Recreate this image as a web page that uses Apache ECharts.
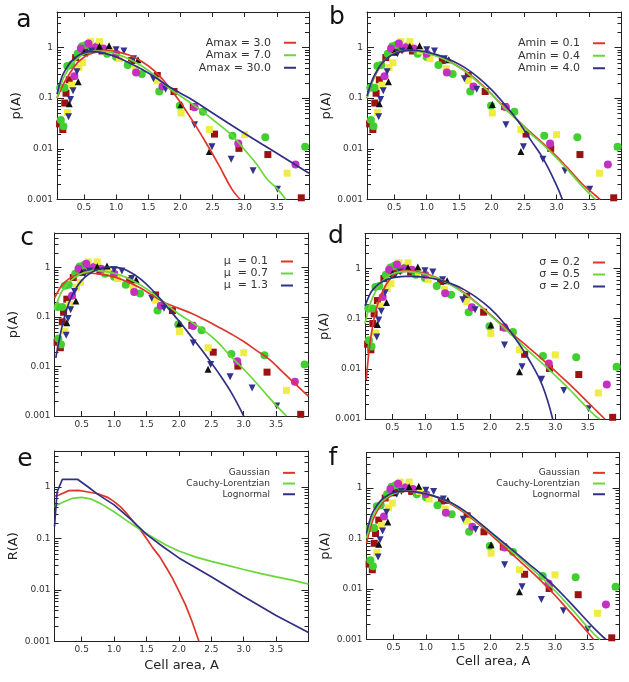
<!DOCTYPE html>
<html>
<head>
<meta charset="utf-8">
<script src="https://cdn.jsdelivr.net/npm/echarts@6/dist/echarts.min.js"></script>
<style>html,body{margin:0;padding:0;background:#fff}#c{width:629px;height:682px}</style>
</head>
<body>
<div id="c"></div>
<script>
// ---------- axis settings ----------
const xMin = 0.08, xMax = 4.0, yMin = 0.001, yMax = 5;
const minorTickValues = [0.002,0.003,0.004,0.005,0.006,0.007,0.008,0.009,
  0.02,0.03,0.04,0.05,0.06,0.07,0.08,0.09,0.2,0.3,0.4,0.5,0.6,0.7,0.8,0.9,2,3,4];

// ---------- measured data (shared by panels a-d, f) ----------
const maroonSquares = [[0.12,0.031],[0.17,0.024],[0.2,0.08],[0.22,0.125],[0.27,0.23],[0.37,0.63],[0.5,0.9],[0.6,0.93],[0.78,0.85],[1.0,0.72],[1.24,0.55],[1.64,0.28],[1.9,0.135],[2.2,0.068],[2.53,0.0195],[2.91,0.0102],[3.36,0.0077],[3.88,0.00108]];
const greenCircles = [[0.14,0.037],[0.18,0.028],[0.13,0.16],[0.2,0.16],[0.24,0.43],[0.3,0.45],[0.4,0.75],[0.47,1.05],[0.53,1.12],[0.62,1.0],[0.7,1.05],[0.86,0.75],[1.0,0.65],[1.18,0.45],[1.4,0.3],[1.67,0.135],[1.99,0.071],[2.35,0.054],[2.81,0.018],[3.32,0.017],[3.94,0.011]];
const yellowSquares = [[0.24,0.052],[0.31,0.18],[0.42,0.4],[0.48,0.5],[0.6,1.3],[0.74,1.3],[0.9,0.85],[1.05,0.6],[1.3,0.38],[1.64,0.22],[2.01,0.051],[2.45,0.024],[3.0,0.019],[3.66,0.0033]];
const magentaCircles = [[0.35,0.27],[0.45,0.95],[0.57,1.2],[0.68,1.0],[0.8,0.95],[1.0,0.75],[1.31,0.32],[1.72,0.17],[2.22,0.066],[2.9,0.0128],[3.79,0.0049]];
const navyTriangles = [[0.26,0.043],[0.29,0.094],[0.33,0.14],[0.39,0.33],[0.55,0.75],[0.62,0.85],[1.0,0.9],[1.12,0.85],[1.27,0.6],[1.58,0.24],[1.77,0.15],[2.22,0.03],[2.49,0.011],[2.79,0.0062],[3.13,0.0037],[3.51,0.0016]];
const blackTriangles = [[0.27,0.077],[0.41,0.21],[0.5,0.8],[0.74,1.05],[0.89,1.08],[1.34,0.57],[2.01,0.075],[2.45,0.0088]];

// ---------- model curves ----------
const aRed = [[0.08,0.1],[0.15,0.16],[0.2,0.21],[0.3,0.34],[0.4,0.5],[0.5,0.64],[0.6,0.75],[0.7,0.82],[0.8,0.86],[0.9,0.86],[1.0,0.83],[1.2,0.71],[1.4,0.53],[1.6,0.34],[1.8,0.18],[2.0,0.082],[2.2,0.034],[2.4,0.013],[2.6,0.0047],[2.8,0.0016],[2.93,0.001]];
const aGreen = [[0.08,0.1],[0.15,0.2],[0.2,0.28],[0.3,0.45],[0.4,0.61],[0.5,0.74],[0.6,0.82],[0.7,0.85],[0.8,0.84],[1.0,0.75],[1.2,0.59],[1.4,0.43],[1.6,0.28],[1.8,0.165],[2.0,0.11],[2.15,0.082],[2.33,0.056],[2.5,0.038],[2.8,0.0185],[3.0,0.0095],[3.19,0.0049],[3.35,0.0025],[3.5,0.00166],[3.64,0.001]];
const aBlue = [[0.08,0.12],[0.15,0.25],[0.2,0.34],[0.3,0.53],[0.4,0.68],[0.5,0.78],[0.6,0.83],[0.7,0.82],[0.8,0.78],[1.0,0.65],[1.2,0.5],[1.4,0.37],[1.6,0.26],[1.8,0.175],[2.0,0.125],[2.2,0.09],[2.5,0.051],[3.0,0.02],[3.5,0.0082],[4.0,0.0033]];
const bRed = [[0.08,0.1],[0.15,0.19],[0.2,0.27],[0.3,0.46],[0.4,0.63],[0.5,0.76],[0.6,0.84],[0.7,0.87],[0.8,0.86],[1.0,0.78],[1.2,0.65],[1.4,0.49],[1.6,0.34],[1.8,0.21],[2.0,0.12],[2.2,0.064],[2.4,0.037],[2.6,0.021],[2.8,0.0125],[3.0,0.0071],[3.2,0.0038],[3.4,0.002],[3.6,0.0012],[3.67,0.001]];
const bGreen = [[0.08,0.1],[0.15,0.2],[0.2,0.28],[0.3,0.47],[0.4,0.64],[0.5,0.77],[0.6,0.85],[0.7,0.87],[0.8,0.86],[1.0,0.77],[1.2,0.64],[1.4,0.48],[1.6,0.33],[1.8,0.2],[2.0,0.118],[2.2,0.063],[2.4,0.036],[2.6,0.02],[2.8,0.0118],[3.0,0.0066],[3.2,0.0035],[3.4,0.0018],[3.6,0.001]];
const bBlue = [[0.08,0.11],[0.15,0.21],[0.2,0.29],[0.3,0.47],[0.4,0.63],[0.5,0.75],[0.6,0.83],[0.7,0.87],[0.8,0.87],[1.0,0.81],[1.2,0.69],[1.4,0.54],[1.6,0.39],[1.8,0.25],[2.0,0.145],[2.2,0.075],[2.4,0.036],[2.6,0.015],[2.8,0.0062],[3.0,0.0019],[3.09,0.001]];
const cRed = [[0.08,0.24],[0.15,0.36],[0.2,0.45],[0.3,0.59],[0.4,0.69],[0.5,0.75],[0.6,0.77],[0.7,0.76],[0.8,0.73],[1.0,0.65],[1.2,0.52],[1.4,0.39],[1.6,0.27],[1.8,0.19],[2.0,0.15],[2.2,0.118],[2.4,0.088],[2.6,0.064],[2.8,0.046],[3.0,0.032],[3.2,0.021],[3.4,0.0138],[3.6,0.0078],[3.8,0.0044],[4.0,0.0025]];
const cGreen = [[0.08,0.14],[0.15,0.25],[0.2,0.34],[0.3,0.5],[0.4,0.64],[0.5,0.76],[0.6,0.83],[0.7,0.87],[0.8,0.86],[1.0,0.77],[1.2,0.62],[1.4,0.45],[1.6,0.3],[1.8,0.185],[2.0,0.115],[2.2,0.078],[2.4,0.052],[2.6,0.031],[2.8,0.016],[3.0,0.0088],[3.2,0.0046],[3.4,0.0023],[3.6,0.0012],[3.66,0.001]];
const cBlue = [[0.1,0.015],[0.15,0.033],[0.2,0.068],[0.25,0.12],[0.3,0.19],[0.4,0.36],[0.5,0.55],[0.6,0.72],[0.7,0.86],[0.8,0.96],[0.9,1.02],[1.0,1.02],[1.1,0.97],[1.2,0.87],[1.4,0.6],[1.6,0.34],[1.8,0.17],[2.0,0.083],[2.2,0.039],[2.4,0.018],[2.6,0.0078],[2.8,0.0031],[3.0,0.001]];
const dRed = [[0.1,0.006],[0.12,0.012],[0.15,0.028],[0.2,0.075],[0.25,0.15],[0.3,0.24],[0.4,0.47],[0.5,0.7],[0.6,0.86],[0.7,0.92],[0.8,0.9],[1.0,0.79],[1.2,0.64],[1.4,0.48],[1.6,0.33],[1.8,0.205],[2.0,0.122],[2.2,0.072],[2.4,0.043],[2.6,0.026],[2.8,0.0155],[3.0,0.009],[3.2,0.0052],[3.4,0.0029],[3.6,0.0016],[3.76,0.001]];
const dGreen = [[0.08,0.08],[0.15,0.18],[0.2,0.27],[0.3,0.47],[0.4,0.65],[0.5,0.78],[0.6,0.85],[0.7,0.88],[0.8,0.86],[1.0,0.77],[1.2,0.63],[1.4,0.47],[1.6,0.32],[1.8,0.2],[2.0,0.118],[2.2,0.068],[2.4,0.039],[2.6,0.022],[2.8,0.0128],[3.0,0.0073],[3.2,0.0041],[3.4,0.0022],[3.6,0.0012],[3.68,0.001]];
const dBlue = [[0.08,0.18],[0.15,0.3],[0.2,0.38],[0.3,0.5],[0.4,0.59],[0.5,0.65],[0.6,0.68],[0.7,0.7],[0.8,0.7],[1.0,0.67],[1.2,0.6],[1.4,0.5],[1.6,0.38],[1.8,0.26],[2.0,0.16],[2.2,0.085],[2.4,0.038],[2.6,0.015],[2.8,0.0047],[2.96,0.001]];
const eGaussian = [[0.08,0.66],[0.15,0.7],[0.3,0.85],[0.45,0.86],[0.6,0.8],[0.75,0.74],[0.9,0.63],[1.0,0.52],[1.1,0.41],[1.2,0.3],[1.3,0.21],[1.4,0.15],[1.5,0.1],[1.6,0.065],[1.7,0.045],[1.8,0.028],[1.9,0.017],[2.0,0.0095],[2.1,0.0052],[2.2,0.0025],[2.31,0.001]];
const eCauchy = [[0.08,0.42],[0.2,0.5],[0.35,0.6],[0.5,0.63],[0.65,0.58],[0.8,0.47],[1.0,0.33],[1.2,0.22],[1.4,0.15],[1.6,0.105],[1.8,0.075],[2.0,0.057],[2.25,0.044],[2.5,0.036],[2.75,0.03],[3.0,0.025],[3.25,0.021],[3.5,0.018],[3.75,0.0155],[4.0,0.013]];
const eLognormal = [[0.08,0.17],[0.12,0.8],[0.2,1.4],[0.44,1.4],[0.6,1.0],[0.75,0.72],[1.0,0.45],[1.25,0.24],[1.5,0.12],[1.75,0.07],[2.0,0.042],[2.5,0.018],[3.0,0.0075],[3.5,0.0032],[4.0,0.0015]];
const fGaussian = [[0.08,0.08],[0.15,0.18],[0.2,0.27],[0.3,0.45],[0.4,0.62],[0.5,0.75],[0.6,0.83],[0.7,0.86],[0.8,0.85],[1.0,0.77],[1.2,0.63],[1.4,0.47],[1.6,0.32],[1.8,0.2],[2.0,0.12],[2.2,0.07],[2.4,0.041],[2.6,0.024],[2.8,0.0138],[3.0,0.0075],[3.2,0.0039],[3.4,0.002],[3.6,0.001]];
const fCauchy = [[0.08,0.1],[0.15,0.22],[0.2,0.31],[0.3,0.5],[0.4,0.66],[0.5,0.77],[0.6,0.84],[0.7,0.86],[0.8,0.85],[1.0,0.77],[1.2,0.64],[1.4,0.49],[1.6,0.34],[1.8,0.21],[2.0,0.13],[2.2,0.078],[2.4,0.047],[2.6,0.028],[2.8,0.0165],[3.0,0.0092],[3.2,0.0049],[3.4,0.0025],[3.6,0.0013],[3.7,0.001]];
const fLognormal = [[0.08,0.13],[0.15,0.27],[0.2,0.37],[0.3,0.56],[0.4,0.7],[0.5,0.8],[0.6,0.85],[0.7,0.86],[0.8,0.84],[1.0,0.76],[1.2,0.64],[1.4,0.5],[1.6,0.35],[1.8,0.22],[2.0,0.135],[2.2,0.083],[2.4,0.051],[2.6,0.031],[2.8,0.019],[3.0,0.011],[3.2,0.006],[3.4,0.0032],[3.6,0.0017],[3.79,0.001]];

const aNames = ['Amax = 3.0','Amax = 7.0','Amax = 30.0'];
const bNames = ['Amin = 0.1','Amin = 0.4','Amin = 4.0'];
const cNames = ['\u03bc  = 0.1','\u03bc  = 0.7','\u03bc  = 1.3'];
const dNames = ['\u03c3 = 0.2','\u03c3 = 0.5','\u03c3 = 2.0'];
const fitNames = ['Gaussian','Cauchy-Lorentzian','Lognormal'];

// ---------- styling / layout ----------
const FONT = 'DejaVu Sans';
const lineColors = ['#e0352b','#6ad63a','#2f2f86'];
const scatterDefs = [
  {data: maroonSquares, symbol:'rect', color:'#9c1212', size:7, rot:0},
  {data: greenCircles, symbol:'circle', color:'#3fcf2f', size:8, rot:0},
  {data: yellowSquares, symbol:'rect', color:'#eded45', size:7, rot:0},
  {data: magentaCircles, symbol:'circle', color:'#c42fc4', size:8, rot:0},
  {data: navyTriangles, symbol:'triangle', color:'#32328f', size:7, rot:180},
  {data: blackTriangles, symbol:'triangle', color:'#111111', size:7, rot:0}
];
const panels = [
  {letter:'a', lx:24, ly:20, grid:{left:57, top:12, width:252, height:187.5}, curves:[aRed,aGreen,aBlue], names:aNames, scatter:true, yName:'p(A)', xName:'', legend:{right:333, top:36.5, fs:11, lh:12.5}},
  {letter:'b', lx:337, ly:17, grid:{left:367, top:12, width:254.5, height:187.5}, curves:[bRed,bGreen,bBlue], names:bNames, scatter:true, yName:'p(A)', xName:'', legend:{right:24, top:37, fs:11, lh:12.5}},
  {letter:'c', lx:27, ly:238, grid:{left:54.5, top:233, width:254, height:183}, curves:[cRed,cGreen,cBlue], names:cNames, scatter:true, yName:'p(A)', xName:'', legend:{right:336, top:255.5, fs:11, lh:12}},
  {letter:'d', lx:336, ly:236, grid:{left:365, top:233.5, width:255.5, height:185.5}, curves:[dRed,dGreen,dBlue], names:dNames, scatter:true, yName:'p(A)', xName:'', legend:{right:24, top:256.5, fs:11, lh:12}},
  {letter:'e', lx:25, ly:459, grid:{left:54.5, top:451, width:254, height:190.5}, curves:[eGaussian,eCauchy,eLognormal], names:fitNames, scatter:false, yName:'R(A)', xName:'Cell area, A', xNameGap:18, smooth:false, legend:{right:334, top:467.5, fs:9, lh:10.7}},
  {letter:'f', lx:333, ly:458, grid:{left:366.5, top:452.5, width:253, height:187}, curves:[fGaussian,fCauchy,fLognormal], names:fitNames, scatter:false, withScatter:true, yName:'p(A)', xName:'Cell area, A', xNameGap:16, legend:{right:24, top:467.5, fs:9, lh:10.7}}
];

const grids = [], xAxes = [], yAxes = [], series = [], legends = [], graphics = [];
const axisCol = '#222';
function fmtY(v){ return String(Number(v.toPrecision(3))); }

panels.forEach((p, i) => {
  grids.push(Object.assign({}, p.grid));
  const baseX = {type:'value', gridIndex:i, min:xMin, max:xMax, splitNumber:8,
    axisLine:{show:true, onZero:false, lineStyle:{color:axisCol, width:1}},
    axisTick:{show:true, inside:true, length:5, lineStyle:{color:axisCol}},
    splitLine:{show:false}};
  xAxes.push(Object.assign({}, baseX, {position:'bottom',
    axisLabel:{fontFamily:FONT, fontSize:9, color:'#333', margin:4, showMinLabel:false, showMaxLabel:false,
      formatter: v => v.toFixed(1)},
    name:p.xName, nameLocation:'middle', nameGap:p.xNameGap || 18,
    nameTextStyle:{fontFamily:FONT, fontSize:13, color:'#222'}}));
  xAxes.push(Object.assign({}, baseX, {position:'top', axisLabel:{show:false}}));
  const baseY = {type:'log', logBase:10, gridIndex:i, min:yMin, max:yMax,
    axisLine:{show:true, onZero:false, lineStyle:{color:axisCol, width:1}},
    axisTick:{show:true, inside:true, length:7, lineStyle:{color:axisCol}},
    splitLine:{show:false}};
  yAxes.push(Object.assign({}, baseY, {position:'left',
    axisLabel:{fontFamily:FONT, fontSize:9, color:'#333', margin:4, showMaxLabel:false, formatter: fmtY},
    name:p.yName, nameLocation:'middle', nameGap:34, nameRotate:90,
    nameTextStyle:{fontFamily:FONT, fontSize:13, color:'#222'}}));
  yAxes.push(Object.assign({}, baseY, {position:'right', axisLabel:{show:false}}));

  const xi = 2*i, yi = 2*i;
  // minor log ticks, placed through the y scale
  series.push({type:'custom', xAxisIndex:xi, yAxisIndex:yi, silent:true, clip:false, z:1,
    data: minorTickValues.map(v => [xMin, v]),
    renderItem: (params, api) => {
      const cs = params.coordSys;
      const y = Math.round(api.coord([api.value(0), api.value(1)])[1]) + 0.5;
      return {type:'group', children:[
        {type:'line', shape:{x1:cs.x, y1:y, x2:cs.x+4, y2:y}, style:{stroke:axisCol, lineWidth:1}},
        {type:'line', shape:{x1:cs.x+cs.width, y1:y, x2:cs.x+cs.width-4, y2:y}, style:{stroke:axisCol, lineWidth:1}}
      ]};
    }});
  if (p.scatter || p.withScatter) {
    scatterDefs.forEach(s => {
      series.push({type:'scatter', xAxisIndex:xi, yAxisIndex:yi, data:s.data, symbol:s.symbol,
        symbolSize:s.size, symbolRotate:s.rot, itemStyle:{color:s.color, opacity:1}, silent:true, z:2});
    });
  }
  p.curves.forEach((c, k) => {
    series.push({type:'line', name:p.names[k], xAxisIndex:xi, yAxisIndex:yi, data:c,
      showSymbol:false, smooth: p.smooth === false ? false : 0.4, clip:true,
      lineStyle:{color:lineColors[k], width:1.7}, itemStyle:{color:lineColors[k]}, z:3, silent:true});
  });
  legends.push({orient:'vertical', align:'right', right:p.legend.right, top:p.legend.top, padding:0,
    itemGap:0, itemWidth:12, itemHeight:2, icon:'rect', selectedMode:false, data:p.names.slice(),
    textStyle:{fontFamily:FONT, fontSize:p.legend.fs, color:'#333', lineHeight:p.legend.lh, padding:[0,8,0,0]}});
  graphics.push({type:'text', x:p.lx, y:p.ly, style:{text:p.letter, fontFamily:FONT, fontSize:25, fill:'#111', align:'center', verticalAlign:'middle'}});
});

const chart = echarts.init(document.getElementById('c'), null, {renderer:'canvas'});
chart.setOption({
  backgroundColor:'#ffffff', animation:false,
  grid:grids, xAxis:xAxes, yAxis:yAxes, series:series, legend:legends, graphic:graphics
});
</script>
</body>
</html>
